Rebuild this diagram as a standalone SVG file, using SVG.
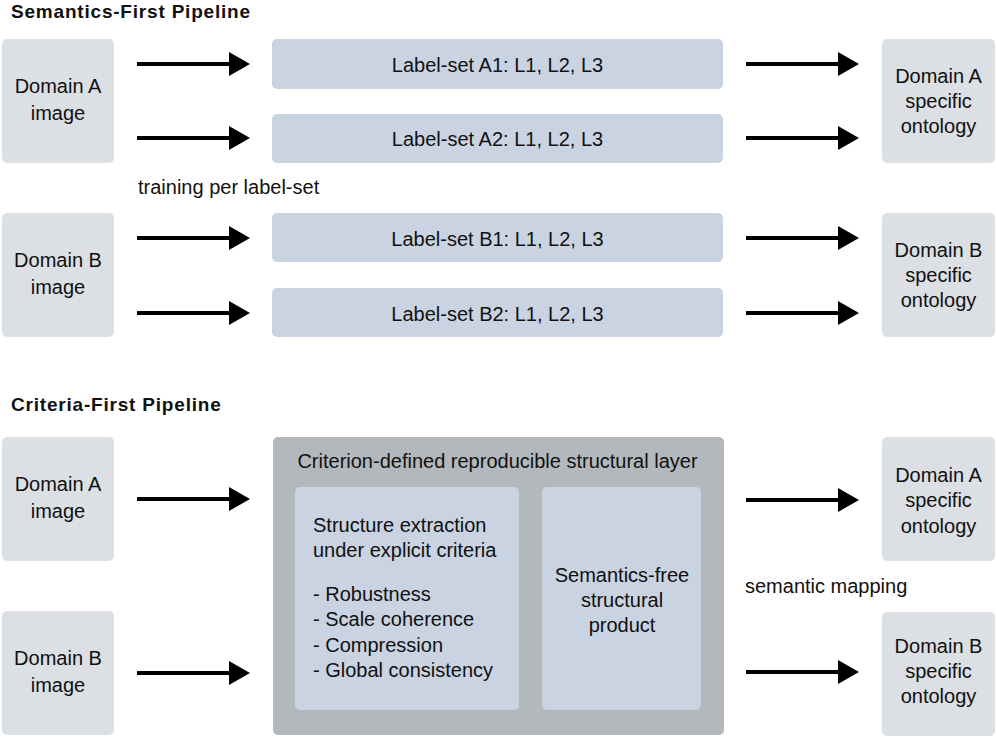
<svg xmlns="http://www.w3.org/2000/svg" width="996" height="737" viewBox="0 0 996 737">
<defs>
<marker id="ah" markerUnits="userSpaceOnUse" markerWidth="21" markerHeight="24" viewBox="0 0 21 24" refX="1" refY="12" orient="auto"><path d="M0,0 L21,12 L0,24 z" fill="#000"/></marker>
<style>
text{font-family:"Liberation Sans",Arial,sans-serif;font-size:20px;fill:#111;}
.t{font-weight:bold;font-size:19px;letter-spacing:0.8px;}
.c{text-anchor:middle;}
.dom{fill:#dcdfe4;}
.lab{fill:#c9d3e1;}
.big{fill:#b3b8bc;}
.ar{stroke:#000;stroke-width:4;fill:none;marker-end:url(#ah);}
</style>
</defs>
<rect width="996" height="737" fill="#fff"/>
<text class="t" x="11" y="18">Semantics-First Pipeline</text>
<text class="t" x="11" y="411">Criteria-First Pipeline</text>

<g id="sf-domA"><rect class="dom" x="2" y="39" width="112" height="124" rx="5"/><text class="c" x="58" y="93">Domain A</text><text class="c" x="58" y="120">image</text></g>
<g id="sf-domB"><rect class="dom" x="2" y="213" width="112" height="124" rx="5"/><text class="c" x="58" y="267">Domain B</text><text class="c" x="58" y="294">image</text></g>
<g id="sf-A1"><rect class="lab" x="272" y="39" width="451" height="50" rx="5"/><text class="c" x="497.5" y="72">Label-set A1: L1, L2, L3</text></g>
<g id="sf-A2"><rect class="lab" x="272" y="114" width="451" height="49" rx="5"/><text class="c" x="497.5" y="146">Label-set A2: L1, L2, L3</text></g>
<g id="sf-B1"><rect class="lab" x="272" y="213" width="451" height="49" rx="5"/><text class="c" x="497.5" y="245.5">Label-set B1: L1, L2, L3</text></g>
<g id="sf-B2"><rect class="lab" x="272" y="288" width="451" height="49" rx="5"/><text class="c" x="497.5" y="320.5">Label-set B2: L1, L2, L3</text></g>
<g id="sf-ontA"><rect class="dom" x="882" y="39" width="113" height="124" rx="5"/><text class="c" x="938.5" y="83">Domain A</text><text class="c" x="938.5" y="108">specific</text><text class="c" x="938.5" y="133">ontology</text></g>
<g id="sf-ontB"><rect class="dom" x="882" y="213" width="113" height="124" rx="5"/><text class="c" x="938.5" y="257">Domain B</text><text class="c" x="938.5" y="282">specific</text><text class="c" x="938.5" y="307">ontology</text></g>
<text id="lbl-training" x="138" y="194">training per label-set</text>

<g id="cf-domA"><rect class="dom" x="2" y="437" width="112" height="124" rx="5"/><text class="c" x="58" y="491">Domain A</text><text class="c" x="58" y="518">image</text></g>
<g id="cf-domB"><rect class="dom" x="2" y="611" width="112" height="124" rx="5"/><text class="c" x="58" y="665">Domain B</text><text class="c" x="58" y="692">image</text></g>
<g id="cf-layer"><rect class="big" x="273" y="437" width="451" height="298" rx="5"/><text class="c" x="497.5" y="468">Criterion-defined reproducible structural layer</text></g>
<g id="cf-extract"><rect class="lab" x="295" y="487" width="224" height="223" rx="5"/><text x="313" y="532">Structure extraction</text><text x="313" y="557">under explicit criteria</text><text x="313" y="601">- Robustness</text><text x="313" y="626">- Scale coherence</text><text x="313" y="652">- Compression</text><text x="313" y="677">- Global consistency</text></g>
<g id="cf-product"><rect class="lab" x="542" y="487" width="159" height="223" rx="5"/><text class="c" x="622" y="582">Semantics-free</text><text class="c" x="622" y="607">structural</text><text class="c" x="622" y="632">product</text></g>
<g id="cf-ontA"><rect class="dom" x="882" y="437" width="113" height="124" rx="5"/><text class="c" x="938.5" y="482">Domain A</text><text class="c" x="938.5" y="507">specific</text><text class="c" x="938.5" y="533">ontology</text></g>
<g id="cf-ontB"><rect class="dom" x="882" y="612" width="113" height="124" rx="5"/><text class="c" x="938.5" y="653">Domain B</text><text class="c" x="938.5" y="678">specific</text><text class="c" x="938.5" y="703">ontology</text></g>
<text id="lbl-mapping" x="745" y="593">semantic mapping</text>

<g id="connectors">
<path class="ar" d="M137,64 H230"/>
<path class="ar" d="M137,138 H230"/>
<path class="ar" d="M137,238 H230"/>
<path class="ar" d="M137,313 H230"/>
<path class="ar" d="M746,64 H839"/>
<path class="ar" d="M746,138 H839"/>
<path class="ar" d="M746,238 H839"/>
<path class="ar" d="M746,313 H839"/>
<path class="ar" d="M137,499 H230"/>
<path class="ar" d="M137,673 H230"/>
<path class="ar" d="M746,500 H839"/>
<path class="ar" d="M746,672 H839"/>
</g>
</svg>
